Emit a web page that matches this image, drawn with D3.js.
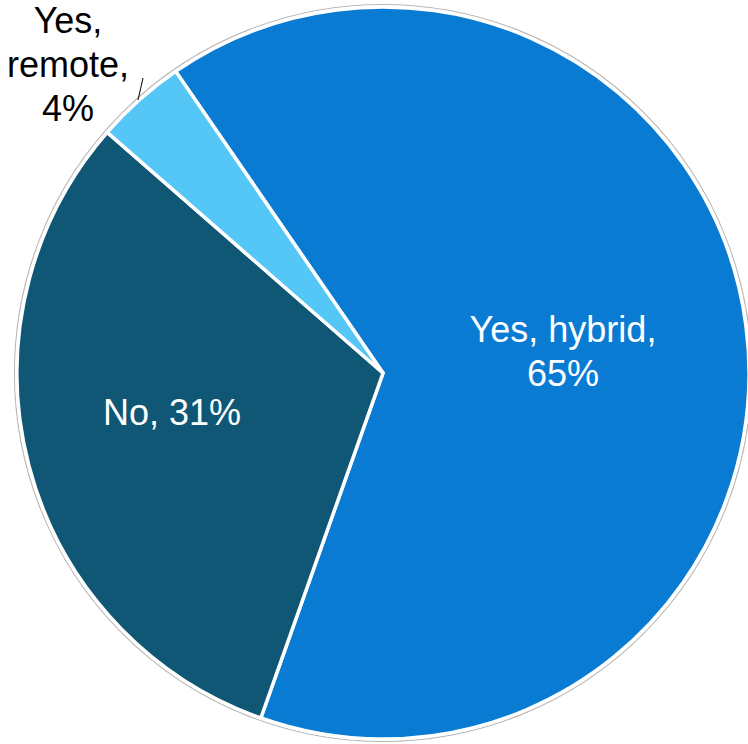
<!DOCTYPE html>
<html><head><meta charset="utf-8">
<script src="https://cdn.jsdelivr.net/npm/d3@7"></script>
<style>html,body{margin:0;padding:0;background:#fff;overflow:hidden}</style>
</head><body>
<svg id="chart" width="748" height="744"></svg>
<script>
const categories = ["Yes, hybrid", "No", "Yes, remote"];
const values = [65, 31, 4];
const colors = ["#0A7BD2", "#0F5775", "#55C7F7"];
const labelLines = [["Yes, hybrid,", "65%"], ["No, 31%"], ["Yes,", "remote,", "4%"]];

const svg = d3.select("#chart");
const cx = 383, cy = 373, r = 366;
const g = svg.append("g").attr("transform", `translate(${cx},${cy})`);

const startA = -34.5 * Math.PI / 180;
const pie = d3.pie().sort(null).value(d => d)
  .startAngle(startA).endAngle(startA + 2 * Math.PI);
const arcs = pie(values);
const arc = d3.arc().innerRadius(0).outerRadius(r);

g.append("circle").attr("r", r + 2.5).attr("fill", "none")
  .attr("stroke", "#b8b8b8").attr("stroke-width", 1.2);

g.selectAll("path.slice").data(arcs).join("path")
  .attr("class", "slice")
  .attr("d", arc)
  .attr("fill", (d, i) => colors[i])
  .attr("stroke", "#fff").attr("stroke-width", 3.5).attr("stroke-linejoin", "miter");

const font = "'Liberation Sans', Arial, sans-serif";
const labelPos = [[563, 342], [172, 425], [68, 33]];
const lineH = 44;
labelLines.forEach((lines, i) => {
  const t = svg.append("text")
    .attr("x", labelPos[i][0]).attr("y", labelPos[i][1])
    .attr("text-anchor", "middle")
    .attr("font-family", font).attr("font-size", 36)
    .attr("fill", i === 2 ? "#000" : "#fff");
  lines.forEach((s, j) => {
    t.append("tspan").attr("x", labelPos[i][0]).attr("dy", j === 0 ? 0 : lineH).text(s);
  });
});

// leader line for small slice
const mid = (arcs[2].startAngle + arcs[2].endAngle) / 2;
svg.append("line")
  .attr("x1", 138).attr("y1", 100).attr("x2", 143).attr("y2", 78)
  .attr("stroke", "#000").attr("stroke-width", 1);
</script>
</body></html>
